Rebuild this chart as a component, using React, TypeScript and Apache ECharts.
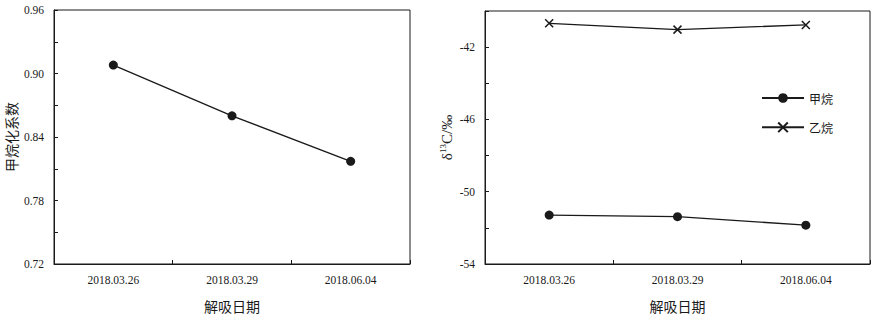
import React, { useEffect, useRef } from "react";
import * as echarts from "echarts";

const categories = ["2018.03.26", "2018.03.29", "2018.06.04"];
const methanationCoef = [0.908, 0.86, 0.817];
const methaneD13C = [-51.29, -51.38, -51.85];
const ethaneD13C = [-40.68, -41.03, -40.77];
const leftTicks = { min: 0.72, max: 0.96, step: 0.03 };
const rightTicks = { min: -54, max: -40, step: 2 };

const SERIF = "Liberation Serif, Times New Roman, serif";
const CJK = "Noto Sans CJK SC, sans-serif";
const INK = "#1a1a1a";

export default function App() {
  const ref = useRef<HTMLDivElement>(null);
  useEffect(() => {
    if (!ref.current) return;
    const chart = echarts.init(ref.current, undefined, { renderer: "svg" });
    const xAxisBase = {
      type: "category",
      data: categories,
      boundaryGap: true,
      axisLine: { show: true, lineStyle: { color: INK, width: 1 } },
      axisTick: { show: true, inside: true, length: 4, lineStyle: { color: INK } },
      axisLabel: { fontFamily: SERIF, fontSize: 11.5, color: INK, margin: 10 },
      name: "解吸日期",
      nameLocation: "middle",
      nameGap: 35,
      nameTextStyle: { fontFamily: CJK, fontSize: 14, color: INK },
      splitLine: { show: false },
    };
    chart.setOption({
      animation: false,
      backgroundColor: "#fff",
      grid: [
        { left: 54, top: 10, right: 466, bottom: 51, show: true, borderColor: INK, borderWidth: 1 },
        { left: 485, top: 11, right: 6, bottom: 52, show: true, borderColor: INK, borderWidth: 1 },
      ],
      xAxis: [
        { ...xAxisBase, gridIndex: 0 },
        { ...xAxisBase, gridIndex: 1 },
      ],
      yAxis: [
        {
          type: "value",
          gridIndex: 0,
          min: leftTicks.min,
          max: leftTicks.max,
          interval: leftTicks.step,
          axisLine: { show: true, lineStyle: { color: INK } },
          axisTick: { show: true, inside: true, length: 4, lineStyle: { color: INK } },
          splitLine: { show: false },
          axisLabel: {
            fontFamily: SERIF,
            fontSize: 11.5,
            color: INK,
            margin: 10,
            formatter: (v: number) =>
              Math.round((v - leftTicks.min) / leftTicks.step) % 2 === 0 ? v.toFixed(2) : "",
          },
          name: "甲烷化系数",
          nameLocation: "middle",
          nameRotate: 90,
          nameGap: 36,
          nameTextStyle: { fontFamily: CJK, fontSize: 14, color: INK },
        },
        {
          type: "value",
          gridIndex: 1,
          min: rightTicks.min,
          max: rightTicks.max,
          interval: rightTicks.step,
          axisLine: { show: true, lineStyle: { color: INK } },
          axisTick: { show: true, inside: true, length: 4, lineStyle: { color: INK } },
          splitLine: { show: false },
          axisLabel: {
            fontFamily: SERIF,
            fontSize: 11.5,
            color: INK,
            margin: 10,
            formatter: (v: number) => {
              const i = Math.round((v - rightTicks.min) / rightTicks.step);
              return i % 2 === 0 && v !== rightTicks.max ? String(v) : "";
            },
          },
          name: "{d|δ}{s|13}{d|C/‰}",
          nameLocation: "middle",
          nameRotate: 90,
          nameGap: 31,
          nameTextStyle: {
            fontFamily: SERIF,
            fontSize: 15,
            color: INK,
            rich: {
              d: { fontFamily: SERIF, fontSize: 15, color: INK, lineHeight: 16, verticalAlign: "bottom" },
              s: { fontFamily: SERIF, fontSize: 9, color: INK, lineHeight: 16, verticalAlign: "top" },
            },
          },
        },
      ],
      legend: {
        left: 756,
        top: 87,
        orient: "vertical",
        itemWidth: 42,
        itemHeight: 12,
        itemGap: 16,
        data: ["甲烷", "乙烷"],
        textStyle: { fontFamily: CJK, fontSize: 12, color: INK, padding: [0, 0, 0, 0] },
      },
      series: [
        {
          type: "line",
          name: "系数",
          xAxisIndex: 0,
          yAxisIndex: 0,
          data: methanationCoef,
          symbol: "circle",
          symbolSize: 9,
          lineStyle: { color: INK, width: 1.3 },
          itemStyle: { color: INK },
        },
        {
          type: "line",
          name: "甲烷",
          xAxisIndex: 1,
          yAxisIndex: 1,
          data: methaneD13C,
          symbol: "circle",
          symbolSize: 9,
          lineStyle: { color: INK, width: 1.3 },
          itemStyle: { color: INK },
        },
        {
          type: "line",
          name: "乙烷",
          xAxisIndex: 1,
          yAxisIndex: 1,
          data: ethaneD13C,
          symbol: "path://M0,0 L1,1 M1,0 L0,1",
          symbolSize: 8,
          lineStyle: { color: INK, width: 1.3 },
          itemStyle: { color: "none", borderColor: INK, borderWidth: 1.5 },
        },
      ],
    });
    return () => chart.dispose();
  }, []);
  return (
    <div
      ref={ref}
      style={{ position: "absolute", left: 0, top: 0, width: 876, height: 318 }}
    />
  );
}
